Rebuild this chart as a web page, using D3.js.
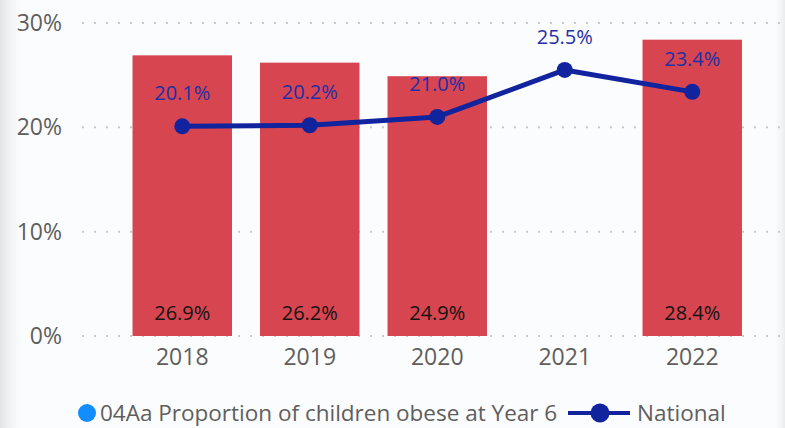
<!DOCTYPE html>
<html>
<head>
<meta charset="utf-8">
<script src="https://cdn.jsdelivr.net/npm/d3@7/dist/d3.min.js"></script>
<style>
  html, body { margin: 0; padding: 0; background: #fbfcfe; }
  svg { display: block; font-family: "Open Sans", "Noto Sans", sans-serif; }
</style>
</head>
<body>
<svg id="chart" width="785" height="428"></svg>
<script>
// Year 6 obesity: local area (bars) against the national figure (line)
const years = ["2018", "2019", "2020", "2021", "2022"];
const localValues = [26.9, 26.2, 24.9, null, 28.4];
const nationalValues = [20.1, 20.2, 21.0, 25.5, 23.4];
const yTicks = [0, 10, 20, 30];
const barSeriesName = "04Aa Proportion of children obese at Year 6";
const lineSeriesName = "National";

const W = 785, H = 428;
const svg = d3.select("#chart");

// soft edge shading around the visual
const defs = svg.append("defs");
const gl = defs.append("linearGradient").attr("id", "edgeL").attr("x1", 0).attr("x2", 1);
gl.append("stop").attr("offset", 0).attr("stop-color", "#e2e3e5");
gl.append("stop").attr("offset", 1).attr("stop-color", "#fbfcfe").attr("stop-opacity", 0);
const gr = defs.append("linearGradient").attr("id", "edgeR").attr("x1", 1).attr("x2", 0);
gr.append("stop").attr("offset", 0).attr("stop-color", "#ebecee");
gr.append("stop").attr("offset", 1).attr("stop-color", "#fbfcfe").attr("stop-opacity", 0);
svg.append("rect").attr("width", W).attr("height", H).attr("fill", "#fbfcfe");
svg.append("rect").attr("x", 0).attr("y", 0).attr("width", 26).attr("height", H).attr("fill", "url(#edgeL)");
svg.append("rect").attr("x", W - 14).attr("y", 0).attr("width", 14).attr("height", H).attr("fill", "url(#edgeR)");

const x = d3.scaleBand().domain(years).range([118.5, 756]).paddingInner(0.22).paddingOuter(0.11);
const y = d3.scaleLinear().domain([0, 30]).range([336, 23]);

// dotted gridlines
svg.append("g").selectAll("line").data(yTicks).join("line")
  .attr("x1", 82).attr("x2", 782)
  .attr("y1", d => y(d)).attr("y2", d => y(d))
  .attr("stroke", "#c9cacc").attr("stroke-width", 2)
  .attr("stroke-dasharray", "2,10");

// y axis labels
const yAxis = d3.axisLeft(y).tickValues(yTicks).tickFormat(d => d + "%").tickSize(0).tickPadding(0);
svg.append("g").attr("transform", "translate(62,0)").call(yAxis)
  .call(g => g.select(".domain").remove())
  .call(g => g.selectAll("text").attr("font-size", 23).attr("fill", "#605e5c")
    .attr("font-family", "'Open Sans', sans-serif"));

// x axis labels
const xAxis = d3.axisBottom(x).tickSize(0).tickPadding(0);
svg.append("g").attr("transform", "translate(0,349)").call(xAxis)
  .call(g => g.select(".domain").remove())
  .call(g => g.selectAll("text").attr("font-size", 23).attr("fill", "#605e5c")
    .attr("font-family", "'Open Sans', sans-serif"));

// bars
const barData = years.map((yr, i) => ({ yr, v: localValues[i] })).filter(d => d.v != null);
svg.append("g").selectAll("rect").data(barData).join("rect")
  .attr("x", d => x(d.yr)).attr("width", x.bandwidth())
  .attr("y", d => y(d.v)).attr("height", d => y(0) - y(d.v))
  .attr("fill", "#d64550");

svg.append("g").selectAll("text").data(barData).join("text")
  .attr("x", d => x(d.yr) + x.bandwidth() / 2).attr("y", 320)
  .attr("text-anchor", "middle").attr("font-size", 20).attr("fill", "#141312")
  .text(d => d.v.toFixed(1) + "%");

// national line
const lineData = years.map((yr, i) => ({ yr, v: nationalValues[i] }));
const cx = d => x(d.yr) + x.bandwidth() / 2;
svg.append("path").datum(lineData)
  .attr("fill", "none").attr("stroke", "#12239e").attr("stroke-width", 5)
  .attr("stroke-linejoin", "round")
  .attr("d", d3.line().x(cx).y(d => y(d.v)));
svg.append("g").selectAll("circle").data(lineData).join("circle")
  .attr("cx", cx).attr("cy", d => y(d.v)).attr("r", 8).attr("fill", "#12239e");
svg.append("g").selectAll("text").data(lineData).join("text")
  .attr("x", cx).attr("y", d => y(d.v) - 26)
  .attr("text-anchor", "middle").attr("font-size", 20).attr("fill", "#1f2fa6")
  .text(d => d.v.toFixed(1) + "%");

// legend
const lg = svg.append("g");
lg.append("circle").attr("cx", 87).attr("cy", 413).attr("r", 9).attr("fill", "#118dff");
lg.append("text").attr("x", 100).attr("y", 421).attr("font-size", 22.5).attr("fill", "#605e5c")
  .text(barSeriesName);
lg.append("line").attr("x1", 568).attr("x2", 630).attr("y1", 413).attr("y2", 413)
  .attr("stroke", "#12239e").attr("stroke-width", 4);
lg.append("circle").attr("cx", 600).attr("cy", 413).attr("r", 9.5).attr("fill", "#12239e");
lg.append("text").attr("x", 637).attr("y", 421).attr("font-size", 22.5).attr("fill", "#605e5c")
  .text(lineSeriesName);
</script>
</body>
</html>
